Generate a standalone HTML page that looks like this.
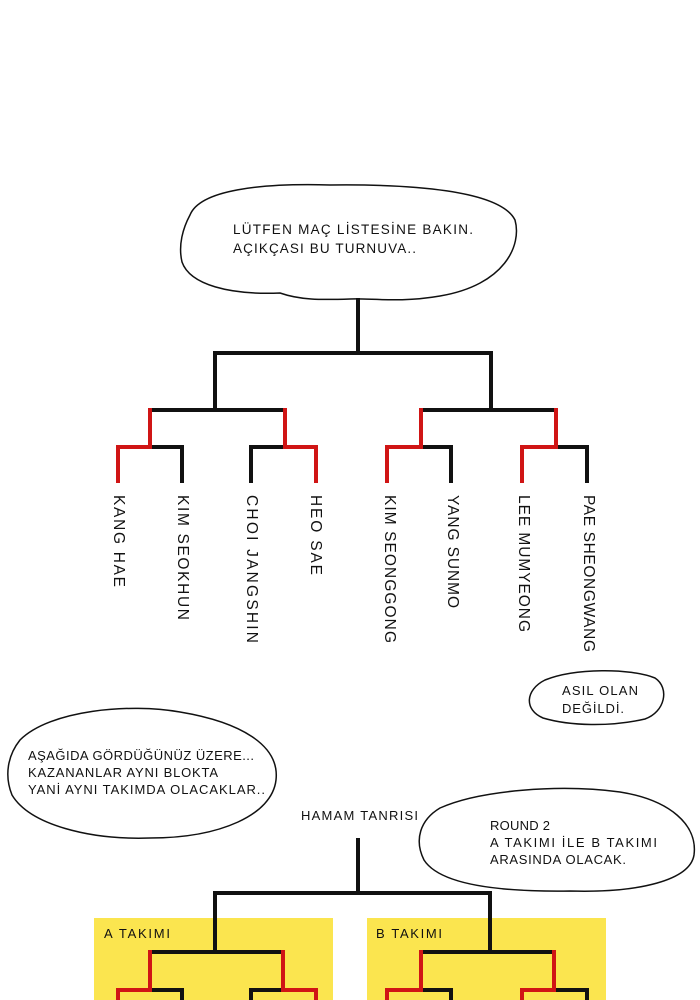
<!DOCTYPE html>
<html><head><meta charset="utf-8"><style>
html,body{margin:0;padding:0;background:#fff;}
svg{display:block;}
text{font-family:"Liberation Sans",sans-serif;fill:#111;}
</style></head><body>
<svg width="700" height="1000" viewBox="0 0 700 1000" xmlns="http://www.w3.org/2000/svg">
<rect width="700" height="1000" fill="#fff"/>
<!-- top bubble -->
<path d="M190,215 C200,190 260,183 330,185 C410,184 500,190 515,220 C522,245 505,285 440,296 C400,303 370,298 350,299 C320,300 300,300 280,293 C230,295 190,285 182,262 C178,245 183,228 190,215 Z" fill="#fff" stroke="#111" stroke-width="1.5"/>
<text x="233" y="234" font-size="13.5" textLength="240">LÜTFEN MAÇ LİSTESİNE BAKIN.</text>
<text x="233" y="253" font-size="13.5" textLength="183">AÇIKÇASI BU TURNUVA..</text>
<!-- top bracket -->
<g fill="none" stroke-width="4" stroke-linecap="square">
<path d="M358,300 V353 M215,353 H491 M215,353 V410 M491,353 V410 M150,410 H285 M421,410 H556" stroke="#111"/>
<path d="M150,447 H182 V481 M251,481 V447 H285 M421,447 H451 V481 M556,447 H587 V481" stroke="#111"/>
<path d="M150,410 V447 H118 V481 M285,410 V447 H316 V481 M421,410 V447 H387 V481 M556,410 V447 H522 V481" stroke="#d01515"/>
</g>
<!-- names -->
<g font-size="15.5">
<text transform="translate(114,495) rotate(90)" textLength="92">KANG HAE</text>
<text transform="translate(178,495) rotate(90)" textLength="125">KIM SEOKHUN</text>
<text transform="translate(247,495) rotate(90)" textLength="148">CHOI JANGSHIN</text>
<text transform="translate(311,495) rotate(90)" textLength="80">HEO SAE</text>
<text transform="translate(385,495) rotate(90)" textLength="148">KIM SEONGGONG</text>
<text transform="translate(448,495) rotate(90)" textLength="113">YANG SUNMO</text>
<text transform="translate(519,495) rotate(90)" textLength="137">LEE MUMYEONG</text>
<text transform="translate(584,495) rotate(90)" textLength="157">PAE SHEONGWANG</text>
</g>
<!-- small bubble -->
<path d="M545,680 C575,668 630,668 655,678 C670,688 665,712 645,719 C610,727 570,726 543,718 C524,710 525,690 545,680 Z" fill="#fff" stroke="#111" stroke-width="1.5"/>
<text x="562" y="695" font-size="13" textLength="76">ASIL OLAN</text>
<text x="562" y="713" font-size="13" textLength="62">DEĞİLDİ.</text>
<!-- left bubble -->
<path d="M20,740 C50,710 130,703 180,712 C240,722 280,745 276,780 C272,815 220,838 150,838 C90,840 30,825 12,795 C4,775 8,755 20,740 Z" fill="#fff" stroke="#111" stroke-width="1.5"/>
<text x="28" y="760" font-size="13" textLength="226">AŞAĞIDA GÖRDÜĞÜNÜZ ÜZERE...</text>
<text x="28" y="777" font-size="13" textLength="190">KAZANANLAR AYNI BLOKTA</text>
<text x="28" y="794" font-size="13" textLength="237">YANİ AYNI TAKIMDA OLACAKLAR..</text>
<text x="301" y="820" font-size="13" textLength="117">HAMAM TANRISI</text>
<!-- right bubble -->
<path d="M440,808 C480,790 560,784 620,792 C670,800 698,825 694,855 C690,880 640,893 570,891 C500,892 440,885 424,860 C414,840 420,820 440,808 Z" fill="#fff" stroke="#111" stroke-width="1.5"/>
<text x="490" y="830" font-size="13" textLength="60">ROUND 2</text>
<text x="490" y="847" font-size="13" textLength="167">A TAKIMI İLE B TAKIMI</text>
<text x="490" y="864" font-size="13" textLength="136">ARASINDA OLACAK.</text>
<!-- team boxes -->
<rect x="94" y="918" width="239" height="82" fill="#fbe54f"/>
<rect x="367" y="918" width="239" height="82" fill="#fbe54f"/>
<text x="104" y="938" font-size="13" textLength="66">A TAKIMI</text>
<text x="376" y="938" font-size="13" textLength="66">B TAKIMI</text>
<g fill="none" stroke-width="4" stroke-linecap="square">
<path d="M358,840 V893 M215,893 H490 M215,893 V952 M490,893 V952 M150,952 H283 M421,952 H554" stroke="#111"/>
<path d="M150,990 H182 V1004 M251,1004 V990 H283 M421,990 H451 V1004 M554,990 H587 V1004" stroke="#111"/>
<path d="M150,952 V990 H118 V1004 M283,952 V990 H316 V1004 M421,952 V990 H387 V1004 M554,952 V990 H522 V1004" stroke="#d01515"/>
</g>
</svg>
</body></html>
